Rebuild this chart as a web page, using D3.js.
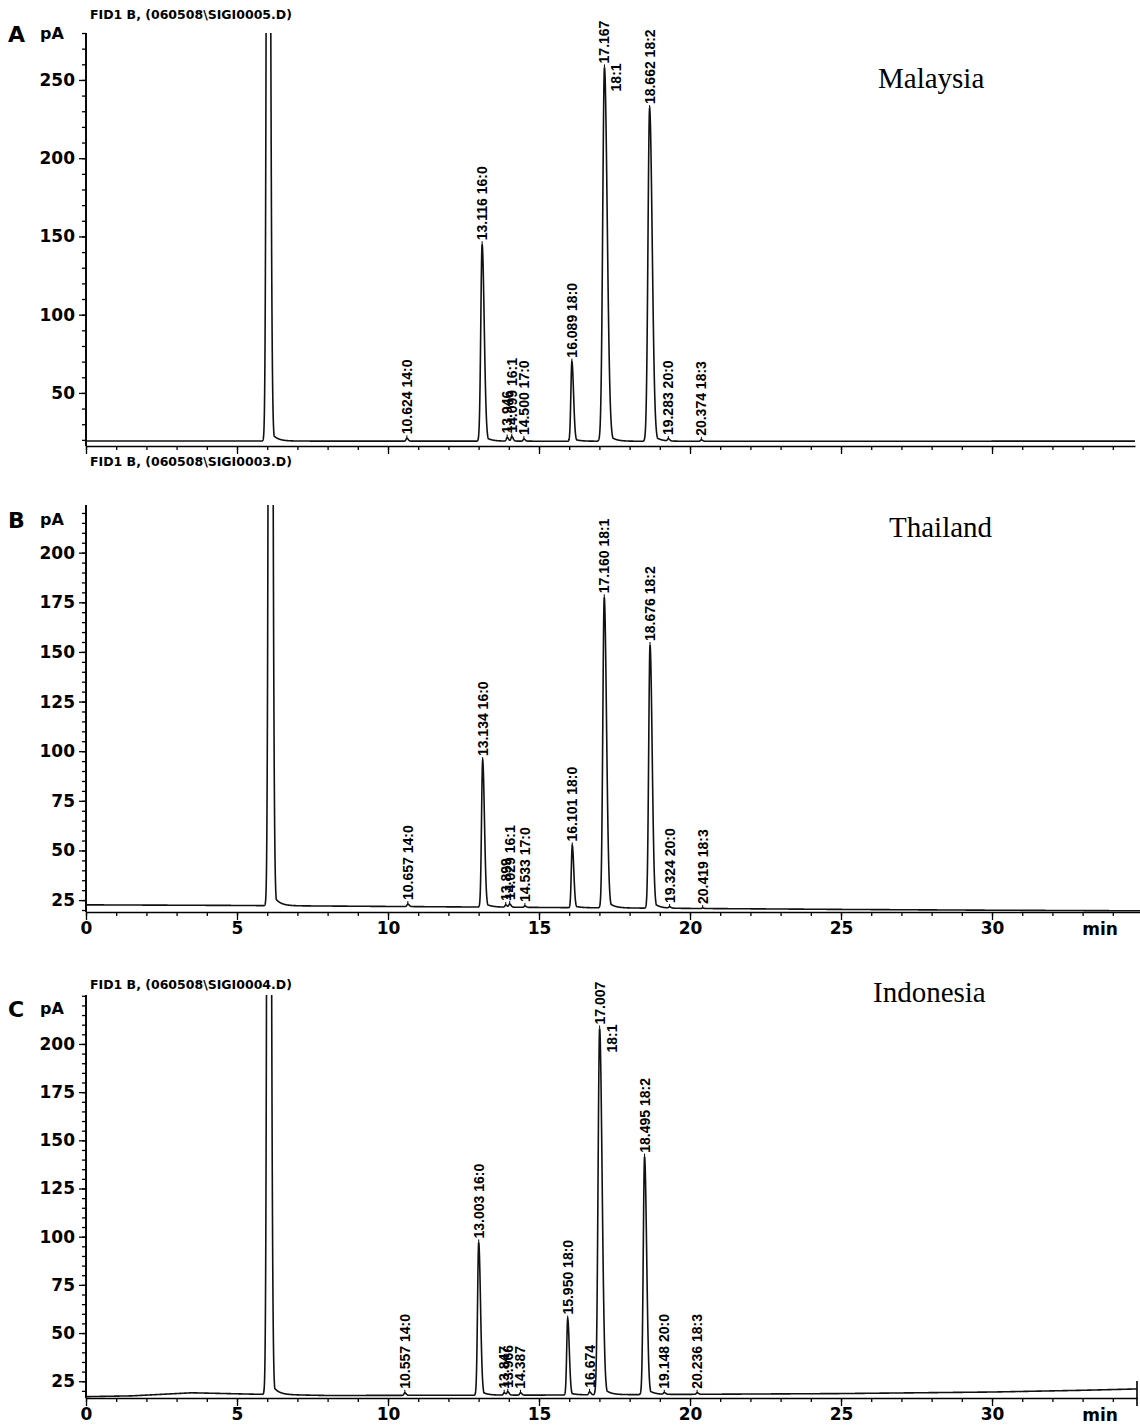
<!DOCTYPE html>
<html>
<head>
<meta charset="utf-8">
<script src="https://cdn.jsdelivr.net/npm/d3@7"></script>
<style>
  body { margin: 0; background: #fff; }
</style>
</head>
<body>
<div id="chart"></div>
<script>
// ---- data ----
// A: Malaysia
var rtA    = [10.624, 13.116, 13.946, 14.099, 14.500, 16.089, 17.167, 18.662, 19.283, 20.374];
var hA     = [21, 145, 21.5, 22, 20.5, 70, 258, 232, 20.5, 20];
var nameA  = ["14:0", "16:0", "", "16:1", "17:0", "18:0", "18:1", "18:2", "20:0", "18:3"];
var solventA = [6.03, 800];
var baseTA = [0, 10, 20, 35];
var baseVA = [19.3, 19.2, 19.1, 19.2];

// B: Thailand
var rtB    = [10.657, 13.134, 13.899, 14.029, 14.533, 16.101, 17.160, 18.676, 19.324, 20.419];
var hB     = [23, 95.5, 22.5, 23, 22, 52.5, 177.5, 153.5, 21.5, 21];
var nameB  = ["14:0", "16:0", "", "16:1", "17:0", "18:0", "18:1", "18:2", "20:0", "18:3"];
var solventB = [6.1, 800];
var baseTB = [0, 5, 10, 15, 20, 25, 30, 35];
var baseVB = [22.6, 22.3, 21.8, 21.3, 20.8, 20.3, 19.9, 19.6];

// C: Indonesia
var rtC    = [10.557, 13.003, 13.847, 13.966, 14.387, 15.950, 16.674, 17.007, 18.495, 19.148, 20.236];
var hC     = [19, 97, 19, 19.5, 19, 57.5, 19.5, 208, 141.5, 19, 19];
var nameC  = ["14:0", "16:0", "", "", "", "18:0", "", "18:1", "18:2", "20:0", "18:3"];
var solventC = [6.05, 800];
var baseTC = [0, 1.5, 3.5, 5.5, 8, 15, 25, 30, 33, 34.8];
var baseVC = [17.0, 17.4, 19.0, 18.3, 17.6, 17.8, 18.6, 19.4, 20.3, 21.0];

var xMajor = [0, 5, 10, 15, 20, 25, 30];

var panels = [
  { letter: "A", country: "Malaysia", file: "FID1 B,  (060508\\SIGI0005.D)",
    rt: rtA, h: hA, name: nameA, solvent: solventA, baseT: baseTA, baseV: baseVA,
    yDomain: [18, 280], yRange: [443, 33], axisY: 446, xLabels: false,
    yMajor: [50, 100, 150, 200, 250], yMinor: d3.range(20, 281, 10),
    fileY: 19, letterY: 42, countryX: 878, countryY: 88, xEnd: 1135 },
  { letter: "B", country: "Thailand", file: "FID1 B,  (060508\\SIGI0003.D)",
    rt: rtB, h: hB, name: nameB, solvent: solventB, baseT: baseTB, baseV: baseVB,
    yDomain: [19, 224], yRange: [912, 505], axisY: 912, xLabels: true,
    yMajor: [25, 50, 75, 100, 125, 150, 175, 200], yMinor: d3.range(20, 225, 5),
    fileY: 466, letterY: 528, countryX: 889, countryY: 537, xEnd: 1140 },
  { letter: "C", country: "Indonesia", file: "FID1 B,  (060508\\SIGI0004.D)",
    rt: rtC, h: hC, name: nameC, solvent: solventC, baseT: baseTC, baseV: baseVC,
    yDomain: [16.3, 225.4], yRange: [1398, 995], axisY: 1398, xLabels: true,
    yMajor: [25, 50, 75, 100, 125, 150, 175, 200], yMinor: d3.range(20, 226, 5),
    fileY: 989, letterY: 1017, countryX: 873, countryY: 1002, xEnd: 1137, endBar: true }
];

var W = 1140, H = 1427;
var boldFont = "'DejaVu Sans', 'Liberation Sans', Arial, sans-serif";
var labelFont = "'Liberation Sans', Arial, sans-serif";

var svg = d3.select("#chart").append("svg")
  .attr("width", W).attr("height", H);

var x = d3.scaleLinear().domain([0, 34.9]).range([86, 1140]);

// peak model: asymmetric gaussian with a small tail
function peakShape(dt, amp, solvent) {
  var sl, sr, tk;
  if (solvent) { sl = 0.045; sr = 0.06; tk = 0.012; }
  else { sl = 0.028 + 0.00012 * amp; sr = sl * 1.6; tk = 0.04; }
  var g = dt < 0 ? Math.exp(-dt * dt / (2 * sl * sl)) : Math.exp(-dt * dt / (2 * sr * sr));
  var tail = dt > 0 ? tk * Math.exp(-dt / 0.18) : 0;
  return amp * Math.max(g, tail);
}

panels.forEach(function(p, pi) {
  var y = d3.scaleLinear().domain(p.yDomain).range(p.yRange);
  var base = d3.scaleLinear().domain(p.baseT).range(p.baseV);
  var top = p.yRange[1];

  var g = svg.append("g");

  // file header
  g.append("text")
    .attr("x", 90).attr("y", p.fileY)
    .style("font-family", boldFont).style("font-size", "12.5px").style("font-weight", "bold")
    .text(p.file);

  // panel letter and unit
  g.append("text").attr("x", 8).attr("y", p.letterY)
    .style("font-family", boldFont).style("font-size", "22px").style("font-weight", "bold")
    .text(p.letter);
  g.append("text").attr("x", 40).attr("y", p.letterY - 3)
    .style("font-family", boldFont).style("font-size", "16px").style("font-weight", "bold")
    .text("pA");

  // country name
  g.append("text").attr("x", p.countryX).attr("y", p.countryY)
    .style("font-family", "'Liberation Serif', 'Times New Roman', serif")
    .style("font-size", "29px").text(p.country);

  // Y axis
  var yAxisG = g.append("g").attr("transform", "translate(" + x(0) + ",0)");
  yAxisG.call(d3.axisLeft(y).tickValues(p.yMinor).tickSize(4).tickFormat("").tickSizeOuter(0));
  yAxisG.append("g").call(d3.axisLeft(y).tickValues(p.yMajor).tickSize(7).tickSizeOuter(0))
    .selectAll("text")
      .style("font-family", boldFont).style("font-size", "17px").style("font-weight", "bold")
      .attr("fill", "#000").attr("dx", "-1");
  yAxisG.selectAll("path.domain").attr("stroke", "#000").attr("stroke-width", 1.6)
    .attr("d", "M0," + top + "V" + p.axisY);
  yAxisG.selectAll("line").attr("stroke", "#000").attr("stroke-width", 1.3);

  // X axis
  var xs = d3.scaleLinear().domain([0, x.invert(p.xEnd)]).range([x(0), p.xEnd]);
  var xAxisG = g.append("g").attr("transform", "translate(0," + p.axisY + ")");
  xAxisG.call(d3.axisBottom(xs).tickValues(d3.range(0, 35, 1)).tickSize(4).tickFormat("").tickSizeOuter(0));
  var maj = xAxisG.append("g").call(d3.axisBottom(xs).tickValues(xMajor).tickSize(8).tickSizeOuter(0));
  maj.select("path.domain").remove();
  maj.selectAll("text")
    .style("font-family", boldFont).style("font-size", "17px").style("font-weight", "bold")
    .attr("fill", "#000").attr("y", 10).attr("dy", "0.72em")
    .style("display", p.xLabels ? null : "none");
  xAxisG.selectAll("path.domain").attr("stroke", "#000").attr("stroke-width", 1.6);
  xAxisG.selectAll("line").attr("stroke", "#000").attr("stroke-width", 1.3);
  if (p.xLabels) {
    xAxisG.append("text").attr("x", 1100).attr("y", 23)
      .style("font-family", boldFont).style("font-size", "17px").style("font-weight", "bold")
      .attr("fill", "#000").text("min");
  }
  if (p.endBar) {
    g.append("line").attr("x1", p.xEnd).attr("x2", p.xEnd)
      .attr("y1", y(base(34.8)) - 8).attr("y2", p.axisY + 8)
      .attr("stroke", "#000").attr("stroke-width", 1.6);
  }

  // trace
  var peaks = p.rt.map(function(t, i) { return { t: t, amp: p.h[i] - base(t) }; });
  peaks.push({ t: p.solvent[0], amp: p.solvent[1], solvent: true });
  var ts = d3.range(0, x.invert(p.xEnd) + 0.0001, 0.004);
  var pts = ts.map(function(t) {
    var v = base(t);
    peaks.forEach(function(pk) {
      var dt = t - pk.t;
      if (Math.abs(dt) < 1.5) v += peakShape(dt, pk.amp, pk.solvent);
    });
    return [t, v];
  });

  var clipId = "clip" + pi;
  svg.append("clipPath").attr("id", clipId).append("rect")
    .attr("x", x(0)).attr("y", top).attr("width", W - x(0)).attr("height", p.axisY - top);

  var line = d3.line().x(function(d) { return x(d[0]); }).y(function(d) { return y(d[1]); });
  g.append("path").datum(pts)
    .attr("clip-path", "url(#" + clipId + ")")
    .attr("fill", "none").attr("stroke", "#111").attr("stroke-width", 1.6)
    .attr("d", line);

  // peak labels
  p.rt.forEach(function(t, i) {
    var px = x(t), py = y(p.h[i]) - 4;
    var txt = t.toFixed(3) + (p.name[i] ? " " + p.name[i] : "");
    var lab = g.append("text")
      .attr("transform", "translate(" + (px + 5) + "," + py + ") rotate(-90)")
      .style("font-family", labelFont).style("font-size", "14px").style("font-weight", "bold")
      .text(txt);
    var len = lab.node().getComputedTextLength();
    if (py - len < top - 10 && p.name[i]) {
      lab.text(t.toFixed(3));
      g.append("text")
        .attr("transform", "translate(" + (px + 17) + "," + (py + 28) + ") rotate(-90)")
        .style("font-family", labelFont).style("font-size", "14px").style("font-weight", "bold")
        .text(p.name[i]);
    }
    g.append("line").attr("x1", px).attr("x2", px)
      .attr("y1", py + 1).attr("y2", py + 4)
      .attr("stroke", "#000").attr("stroke-width", 1);
  });
});
</script>
</body>
</html>
